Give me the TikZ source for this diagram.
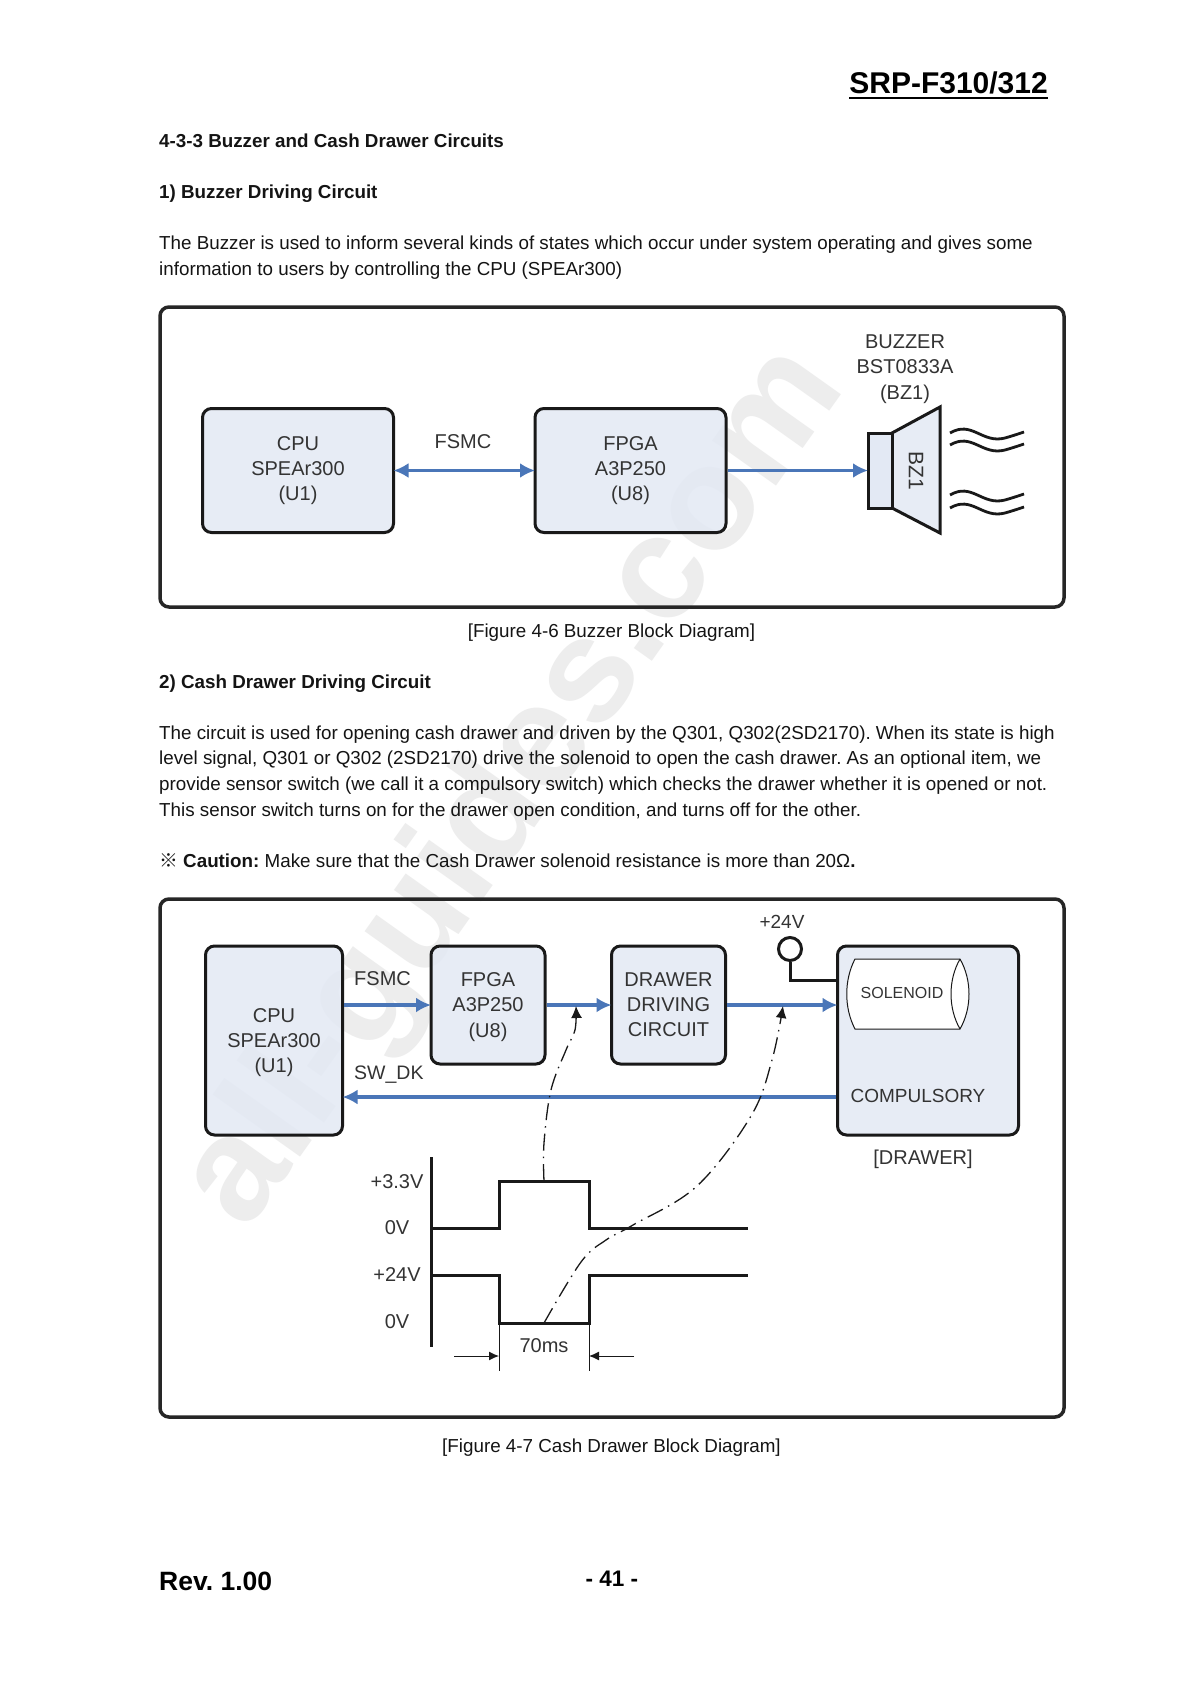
\documentclass[tikz,border=0pt]{standalone}
\usepackage{fontspec}
\setmainfont{Liberation Sans}
\newfontfamily\cjkf{Noto Sans CJK SC}
\usetikzlibrary{arrows.meta,calc}
\AtBeginDocument{\frenchspacing}
\definecolor{boxfill}{HTML}{E3E9F4}
\definecolor{flow}{HTML}{4A76B8}
\definecolor{figtext}{HTML}{333333}
\definecolor{wm}{HTML}{EDEDED}
\tikzset{
  x=1pt,y=-1pt,
  page/.style={anchor=base west,inner sep=0pt,font=\fontsize{18.8}{25}\selectfont,text=black!92},
  pagebold/.style={page,font=\fontsize{18.8}{25}\bfseries\selectfont},
  pagemid/.style={page,anchor=base},
  frameline/.style={draw=black!85,line width=3.5pt,rounded corners=9pt},
  blockbox/.style={draw=black!90,line width=3pt,rounded corners=9pt,fill=boxfill,fill opacity=.85,text opacity=1,inner sep=0pt,align=center,
     text=figtext,font=\fontsize{20}{25.2}\selectfont},
  figlabel/.style={inner sep=0pt,align=center,text=figtext,font=\fontsize{20}{25.2}\selectfont},
  flowline/.style={draw=flow,line width=3.5pt,shorten >=-1.5pt},
  flowtip/.style={-{Latex[length=15pt,width=15pt]}},
  flowtips/.style={{Latex[length=15pt,width=15pt]}-{Latex[length=15pt,width=15pt]},shorten <=-1.5pt},
  wire/.style={draw=black!90,line width=3pt},
  thinline/.style={draw=black!90,line width=1pt},
  chain/.style={draw=black!90,line width=1.3pt,dash pattern=on 17pt off 6pt on 1.5pt off 6pt},
}
\begin{document}
\begin{tikzpicture}
\useasboundingbox (0,0) rectangle (1191,1684);
\fill[white] (0,0) rectangle (1191,1684);
% watermark
\node[inner sep=0pt,rotate=54.6,text=wm,font=\fontsize{148}{148}\bfseries\selectfont] (wmark) at (516,788) {all-guides.com};
% page text
\node[anchor=base east,inner sep=0pt,font=\fontsize{30}{36}\bfseries\selectfont] (hd) at (1048,93) {SRP-F310/312};
\draw[line width=2pt] ([yshift=-5pt]hd.base west) -- ([yshift=-5pt]hd.base east);
\node[pagebold] (t1) at (159,147) {4-3-3 Buzzer and Cash Drawer Circuits};
\node[pagebold] (t2) at (159,198) {1) Buzzer Driving Circuit};
\node[page] (t3) at (159,249) {The Buzzer is used to inform several kinds of states which occur under system operating and gives some};
\node[page] (t4) at (159,275) {information to users by controlling the CPU (SPEAr300)};
\node[pagemid] (c1) at (611.5,637) {[Figure 4-6 Buzzer Block Diagram]};
\node[pagebold] (t5) at (159,688.5) {2) Cash Drawer Driving Circuit};
\node[page] (t6) at (159,739) {The circuit is used for opening cash drawer and driven by the Q301, Q302(2SD2170). When its state is high};
\node[page] (t7) at (159,764.5) {level signal, Q301 or Q302 (2SD2170) drive the solenoid to open the cash drawer. As an optional item, we};
\node[page] (t8) at (159,790) {provide sensor switch (we call it a compulsory switch) which checks the drawer whether it is opened or not.};
\node[page] (t9) at (159,816) {This sensor switch turns on for the drawer open condition, and turns off for the other.};
\node[page] (t10) at (159,867) {{\cjkf ※} \textbf{Caution:} Make sure that the Cash Drawer solenoid resistance is more than 20Ω\textbf{.}};
\node[pagemid] (c2) at (611.5,1452) {[Figure 4-7 Cash Drawer Block Diagram]};
\node[anchor=base west,inner sep=0pt,font=\fontsize{26.5}{30}\bfseries\selectfont] (rev) at (159,1590) {Rev. 1.00};
\node[anchor=base,inner sep=0pt,font=\fontsize{22.5}{25}\bfseries\selectfont] (pg) at (612,1586) {- 41 -};
% figure 1
\draw[frameline] (160,307) rectangle (1064,607);
\node[blockbox,minimum width=191pt,minimum height=124pt] (cpua) at (298,470.5) {CPU\\SPEAr300\\(U1)};
\node[blockbox,minimum width=191pt,minimum height=124pt] (fpgaa) at (630.5,470.5) {FPGA\\A3P250\\(U8)};
\draw[thinline,line width=3pt,fill=boxfill,fill opacity=.85] (892,433) -- (940,407) -- (940,533) -- (892,508) -- cycle;
\node[draw=black!90,line width=3pt,fill=boxfill,minimum width=24pt,minimum height=75pt,inner sep=0pt] (spk) at (880,470.5) {};
\node[figlabel,rotate=-90,font=\fontsize{21}{24}\selectfont] (bzl) at (916,471) {BZ1};
\node[figlabel] (bz) at (905,369) {BUZZER\\BST0833A\\(BZ1)};
\node[figlabel] (fsa) at (463,442) {FSMC};
\draw[flowline,flowtips] (cpua) -- (fpgaa);
\draw[flowline,flowtip] (fpgaa) -- (spk);
\foreach \yy in {433,445,495,508}
  \draw[black!90,line width=2.8pt] (950,\yy) .. controls (972,{\yy-13}) and (982,{\yy+11}) .. (1005,{\yy+5}) .. controls (1012,{\yy+3}) and (1018,{\yy+1}) .. (1024,{\yy-1});
% figure 2
\draw[frameline] (160,899) rectangle (1064,1417);
\node[blockbox,minimum width=137pt,minimum height=189pt] (cpub) at (274,1040.5) {CPU\\SPEAr300\\\smash{(U1)}};
\node[blockbox,minimum width=114pt,minimum height=118pt] (fpgab) at (488,1005) {FPGA\\A3P250\\\smash{(U8)}};
\node[blockbox,minimum width=114pt,minimum height=118pt] (drv) at (668.5,1005) {DRAWER\\DRIVING\\CIRCUIT};
\node[blockbox,minimum width=181pt,minimum height=189pt] (drw) at (928,1040.5) {};
\draw[thinline,fill=white] (855,959) -- (960,959) .. controls (972,980) and (972,1008) .. (960,1029) -- (855,1029) .. controls (844,1008) and (844,980) .. (855,959) -- cycle;
\draw[thinline] (960,959) .. controls (948,980) and (948,1008) .. (960,1029);
\node[figlabel,font=\fontsize{16}{20}\selectfont] (sol) at (902,993) {SOLENOID};
\node[figlabel,font=\fontsize{19}{24}\selectfont] (comp) at (918,1096) {COMPULSORY};
\node[figlabel] (dlab) at (923,1159) {[DRAWER]};
\node[figlabel,font=\fontsize{19}{24}\selectfont] (vcc) at (782,922) {+24V};
\node[draw=black!90,line width=3pt,circle,minimum size=23pt,inner sep=0pt] (vc) at (790,949) {};
\coordinate (jn) at (790,980);
\draw[wire,line join=miter] (vc) -- (jn) -- (jn -| drw.west);
\node[figlabel,anchor=west] (fsb) at (354,979) {FSMC};
\node[figlabel,anchor=west,font=\fontsize{19.5}{24}\selectfont] (swd) at (354,1075) {SW\_DK};
\draw[flowline,flowtip] (fpgab.west -| cpub.east) -- (fpgab.west);
\draw[flowline,flowtip] (fpgab) -- (drv);
\draw[flowline,flowtip] (drv) -- (drv.east -| drw.west);
\coordinate (ret) at (drw.west |- 0,1097);
\draw[flowline,flowtip] (ret) -- (ret -| cpub.east);
% timing
\coordinate (axt) at (431,1157);
\coordinate (axb) at (431,1347);
\draw[wire] (axt) -- (axb);
\coordinate (sa) at (544,1181);
\coordinate (sb) at (544,1323);
\draw[wire,line join=miter] (431,1228) -- (499,1228) -- (499,1181) -- (589,1181) -- (589,1228) -- (748,1228);
\draw[wire,line join=miter] (431,1275) -- (499,1275) -- (499,1323) -- (589,1323) -- (589,1275) -- (748,1275);
\node[figlabel] (v1) at (397,1182) {+3.3V};
\node[figlabel] (v2) at (397,1228) {0V};
\node[figlabel] (v3) at (397,1275) {+24V};
\node[figlabel] (v4) at (397,1322) {0V};
\node[figlabel] (ms) at (544,1346) {70ms};
\coordinate (tl) at (499,1323);
\coordinate (tr) at (589,1323);
\draw[thinline] (tl) -- (499,1371);
\draw[thinline] (tr) -- (589,1371);
\coordinate (al) at (454,1356);
\coordinate (ar) at (634,1356);
\draw[thinline,-{Latex[length=10pt,width=9pt]}] (al) -- (al -| tl);
\draw[thinline,-{Latex[length=10pt,width=9pt]}] (ar) -- (ar -| tr);
\coordinate (ua) at (576,1006);
\coordinate (ub) at (783,1006);
\draw[chain,-{Latex[length=12pt,width=11pt]}] plot[smooth,tension=.6] coordinates {(sa) (544,1143) (551,1090) (566,1050) (575,1030) (ua)};
\draw[chain,-{Latex[length=12pt,width=11pt]}] plot[smooth,tension=.6] coordinates {(sb) (581,1262) (606,1240) (633,1225) (697,1186) (751,1116) (772,1060) (ub)};
\end{tikzpicture}
\end{document}
